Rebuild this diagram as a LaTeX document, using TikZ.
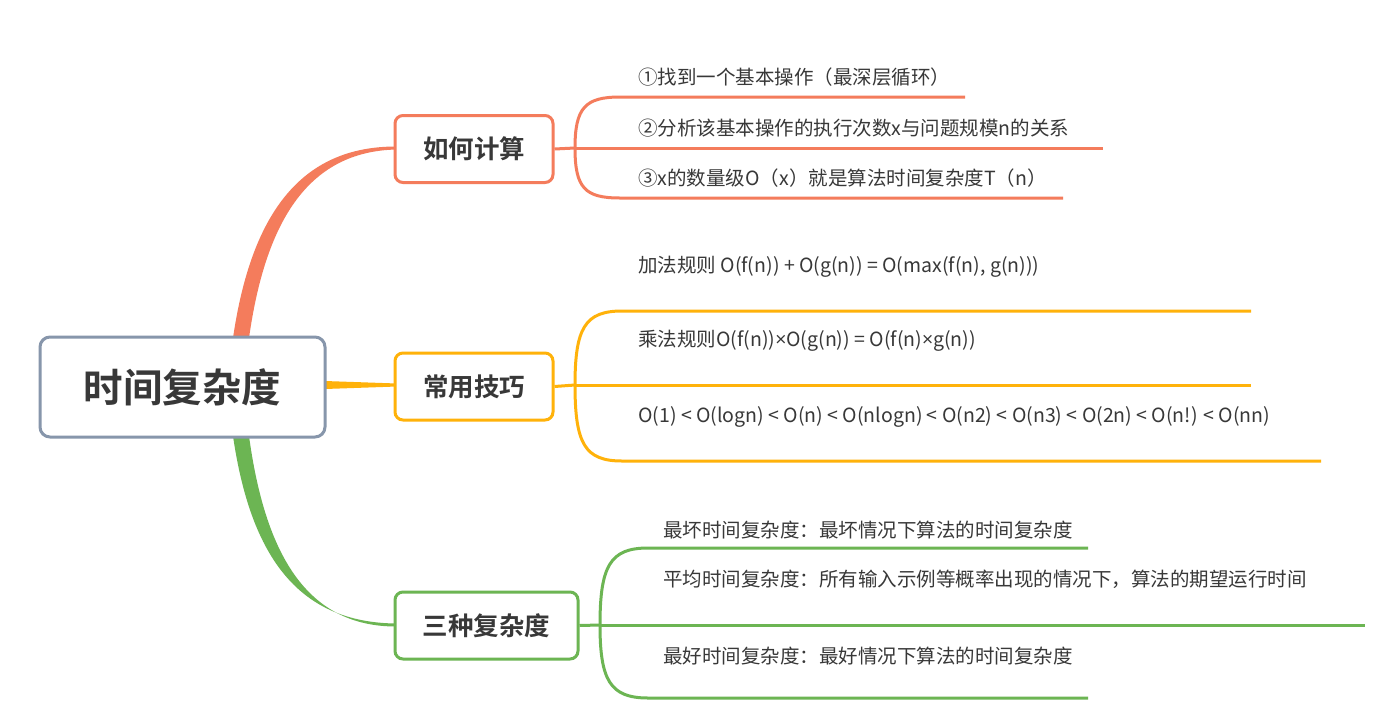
\documentclass[tikz,border=0pt]{standalone}
\usepackage{fontspec}
\setmainfont{Noto Sans CJK SC}
\newfontfamily\cjkb{Noto Sans CJK SC Bold}
\newfontfamily\lat{Open Sans}
\newcommand{\mytimes}{{\lat ×}}
\begin{document}
\begin{tikzpicture}[x=1pt,y=-1pt,
  root/.style={draw=grayc,line width=3pt,rounded corners=10pt,fill=white,minimum width=285pt,minimum height=100pt,font=\cjkb\fontsize{39.5}{44}\selectfont,text=txt},
  topic/.style={draw=#1,line width=3pt,rounded corners=8pt,fill=white,minimum height=67pt,font=\cjkb\fontsize{25.5}{28}\selectfont,text=txt},
  leaf/.style={anchor=west,font=\fontsize{19.5}{22}\selectfont,text=txt,inner sep=0pt},
  sub/.style={draw=#1,line width=3pt},
]
\definecolor{grayc}{HTML}{8796AB}
\definecolor{oc}{HTML}{F47C5C}
\definecolor{yc}{HTML}{FFB20A}
\definecolor{gc}{HTML}{6CB553}
\definecolor{txt}{HTML}{383838}
\useasboundingbox (0,0) rectangle (1392,710);
\fill[white] (0,0) rectangle (1392,710);

% main tapered branches
\fill[oc] (233,338) .. controls (251,215) and (300,146) .. (397,146.5)
  -- (397,149.5) .. controls (306,151) and (265,225) .. (249,338) -- cycle;
\fill[gc] (233,436) .. controls (251,559) and (300,623) .. (397,623.5)
  -- (397,626.5) .. controls (306,627) and (265,553) .. (249,436) -- cycle;
\fill[yc] (325,381) -- (397,383.5) -- (397,386.5) -- (325,389) -- cycle;

\node[root] (R) at (182.5,387) {时间复杂度};
\node[topic=oc,minimum width=158pt] (A) at (474,149) {如何计算};
\node[topic=yc,minimum width=158pt] (B) at (474,386.5) {常用技巧};
\node[topic=gc,minimum width=183pt] (C) at (486.5,625.5) {三种复杂度};

% orange sub-branches
\coordinate (a0) at (575,148);
\coordinate (a1) at (965,97);
\coordinate (a2) at (1103,148);
\coordinate (a3) at (1063,198);
\draw[sub=oc] (A.east) -- (a0);
\draw[sub=oc] (a0) .. controls (575,108) and (585,97) .. (620,97) -- (a1);
\draw[sub=oc] (a0) -- (a2);
\draw[sub=oc] (a0) .. controls (575,188) and (585,198) .. (620,198) -- (a3);
\node[leaf] (a1t) at (638,77) {①找到一个基本操作（最深层循环）};
\node[leaf] (a2t) at (638,128) {②分析该基本操作的执行次数x与问题规模n的关系};
\node[leaf] (a3t) at (638,178) {③x的数量级O（x）就是算法时间复杂度T（n）};

% yellow sub-branches
\coordinate (b0) at (575,385);
\coordinate (b1) at (1251,311);
\coordinate (b2) at (1251,385);
\coordinate (b3) at (1321,461);
\draw[sub=yc] (B.east) -- (b0);
\draw[sub=yc] (b0) .. controls (575,328) and (585,311) .. (622,311) -- (b1);
\draw[sub=yc] (b0) -- (b2);
\draw[sub=yc] (b0) .. controls (575,444) and (585,461) .. (622,461) -- (b3);
\node[leaf] (b1t) at (638,267) {加法规则 O(f(n)) + O(g(n)) = O(max(f(n), g(n)))};
\node[leaf] (b2t) at (638,341) {乘法规则O(f(n))\mytimes O(g(n)) = O(f(n)\mytimes g(n))};
\node[leaf] (b3t) at (638,417) {O(1) < O(logn) < O(n) < O(nlogn) < O(n2) < O(n3) < O(2n) < O(n!) < O(nn)};

% green sub-branches
\coordinate (c0) at (600,625);
\coordinate (c1) at (1088,548);
\coordinate (c2) at (1365,625);
\coordinate (c3) at (1088,698);
\draw[sub=gc] (C.east) -- (c0);
\draw[sub=gc] (c0) .. controls (600,566) and (610,548) .. (648,548) -- (c1);
\draw[sub=gc] (c0) -- (c2);
\draw[sub=gc] (c0) .. controls (600,680) and (610,698) .. (648,698) -- (c3);
\node[leaf] (c1t) at (663,530) {最坏时间复杂度：最坏情况下算法的时间复杂度};
\node[leaf] (c2t) at (663,579) {平均时间复杂度：所有输入示例等概率出现的情况下，算法的期望运行时间};
\node[leaf] (c3t) at (663,656) {最好时间复杂度：最好情况下算法的时间复杂度};
\end{tikzpicture}
\end{document}
